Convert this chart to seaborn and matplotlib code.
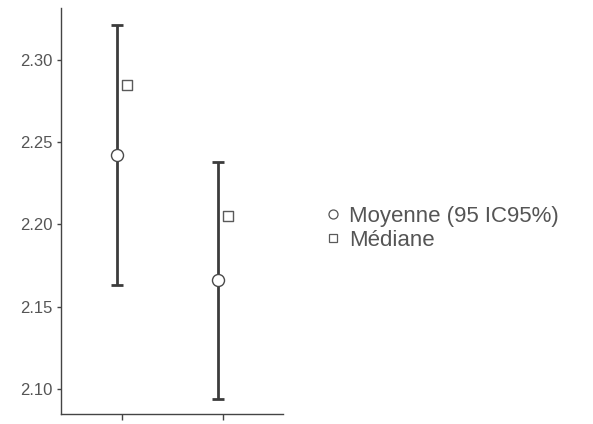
import numpy as np
import pandas as pd
import matplotlib
matplotlib.use("Agg")
import matplotlib.pyplot as plt
import seaborn as sns
from matplotlib.lines import Line2D

groups = ["A", "B"]
means = [2.242, 2.166]
ci_low = [2.163, 2.094]
ci_high = [2.321, 2.238]
medians = [2.285, 2.205]
yticks = [2.10, 2.15, 2.20, 2.25, 2.30]

sns.set_theme(style="white")
plt.rcParams["font.family"] = ["Liberation Sans", "DejaVu Sans"]

fig = plt.figure(figsize=(5.93, 4.24), dpi=100)
ax = fig.add_axes([0.103, 0.024, 0.374, 0.957])

pos = np.arange(len(groups))
df_mean = pd.DataFrame({"x": pos - 0.045, "y": means})
df_med = pd.DataFrame({"x": pos + 0.05, "y": medians})

m = np.array(means)
ax.errorbar(df_mean["x"], m, yerr=[m - np.array(ci_low), np.array(ci_high) - m],
            fmt="none", ecolor="#3c3c3c", elinewidth=2.0, capsize=4, capthick=2.0, zorder=2)
sns.scatterplot(data=df_mean, x="x", y="y", ax=ax, marker="o", s=75,
                facecolor="white", edgecolor="#4a4a4a", linewidth=1.0, zorder=3)
sns.scatterplot(data=df_med, x="x", y="y", ax=ax, marker="s", s=55,
                facecolor="white", edgecolor="#5a5a5a", linewidth=1.0, zorder=3)

ax.set_xlim(-0.604, 1.594)
ax.set_ylim(2.0848, 2.3316)
ax.set_xticks(pos)
ax.set_xticklabels(["", ""])
ax.set_yticks(yticks)
ax.set_yticklabels([f"{v:.2f}" for v in yticks], color="#555555", fontsize=12)
ax.set_xlabel("")
ax.set_ylabel("")
ax.tick_params(axis="x", direction="out", length=4, width=1, color="#444444", bottom=True)
ax.tick_params(axis="y", direction="out", length=3, width=1, color="#444444", left=True, pad=3)
for s in ["top", "right"]:
    ax.spines[s].set_visible(False)
for s in ["left", "bottom"]:
    ax.spines[s].set_color("#444444")
    ax.spines[s].set_linewidth(1.0)

handles = [
    Line2D([], [], marker="o", linestyle="none", markersize=6.5, markerfacecolor="white",
           markeredgecolor="#555555", markeredgewidth=0.9),
    Line2D([], [], marker="s", linestyle="none", markersize=6, markerfacecolor="white",
           markeredgecolor="#5a5a5a", markeredgewidth=0.9),
]
leg = fig.legend(handles, ["Moyenne (95 IC95%)", "Médiane"], loc="center left",
                 bbox_to_anchor=(0.527, 0.461), frameon=False, fontsize=16,
                 handlelength=0.8, handletextpad=0.35, labelspacing=0.15, borderpad=0)
for t in leg.get_texts():
    t.set_color("#555555")

fig.savefig("out.png", dpi=100)
